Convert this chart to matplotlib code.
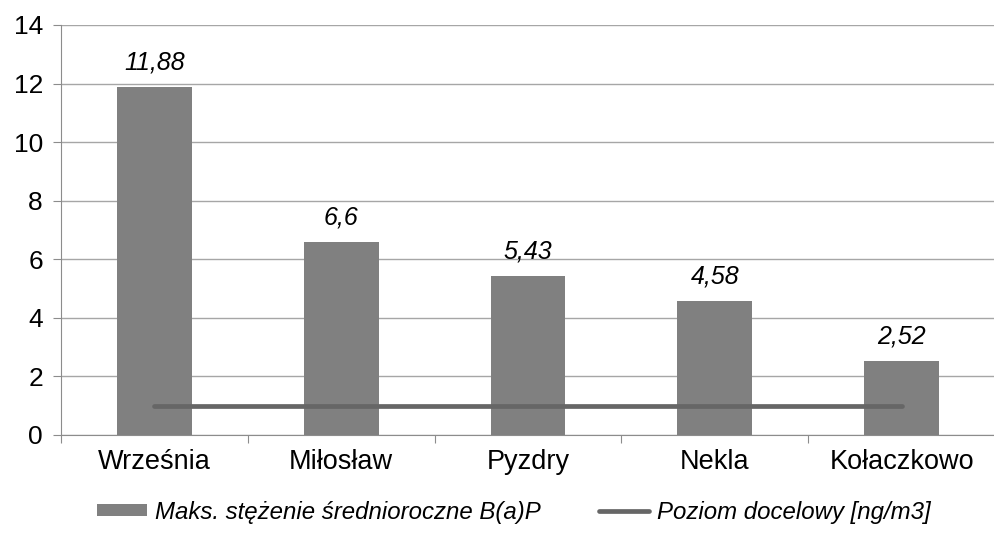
import matplotlib
matplotlib.use("Agg")
import matplotlib.pyplot as plt
from matplotlib.lines import Line2D
from matplotlib.patches import Patch

categories = ["Września", "Miłosław", "Pyzdry", "Nekla", "Kołaczkowo"]
values = [11.88, 6.6, 5.43, 4.58, 2.52]
value_labels = ["11,88", "6,6", "5,43", "4,58", "2,52"]
target = [1, 1, 1, 1, 1]
yticks = [0, 2, 4, 6, 8, 10, 12, 14]

plt.rcParams['font.family'] = ['Liberation Sans', 'DejaVu Sans']

fig = plt.figure(figsize=(9.95, 5.41), dpi=100)
ax = fig.add_axes([61/995, 1-435/541, 1-61/995, 410/541])

x = list(range(len(categories)))
bar_color = "#808080"
line_color = "#666666"
ax.bar(x, values, width=0.4, color=bar_color, zorder=3)
ax.plot(x, target, color=line_color, lw=3.4, solid_capstyle='round', zorder=4)

for xi, v, lab in zip(x, values, value_labels):
    ax.annotate(lab, (xi, v), xytext=(0, 9), textcoords='offset points',
                ha='center', va='bottom', fontsize=18, style='italic', color='#000000')

ax.set_xlim(-0.5, len(categories) - 0.5)
ax.set_ylim(0, 14)
ax.set_yticks(yticks)
ax.set_yticklabels([str(t) for t in yticks], fontsize=19)
ax.yaxis.grid(True, color='#a6a6a6', lw=1)
ax.set_axisbelow(True)

ax.set_xticks([i + 0.5 for i in range(-1, len(categories))], minor=False)
ax.set_xticklabels([])
ax.set_xticks(x, minor=True)
ax.set_xticklabels(categories, minor=True, fontsize=19.5)
ax.tick_params(axis='x', which='minor', length=0, pad=10)
ax.tick_params(axis='x', which='major', length=6, color='#8c8c8c', direction='out')
ax.tick_params(axis='y', length=6, color='#8c8c8c', direction='out', pad=7)

for s in ['top', 'right']:
    ax.spines[s].set_visible(False)
ax.spines['left'].set_color('#8c8c8c')
ax.spines['bottom'].set_color('#8c8c8c')

handles = [Patch(facecolor=bar_color, edgecolor='none'),
           Line2D([0], [0], color=line_color, lw=3.4, solid_capstyle='round')]
labels = ["Maks. stężenie średnioroczne B(a)P", "Poziom docelowy [ng/m3]"]
fig.legend(handles, labels, loc='center left', bbox_to_anchor=(97/995, 1-512/541), ncol=2,
           frameon=False, prop={'style': 'italic', 'size': 17.3}, handlelength=2.1,
           handleheight=0.42, handletextpad=0.33, columnspacing=2.4, borderpad=0,
           borderaxespad=0)

fig.savefig("out.png", dpi=100)
